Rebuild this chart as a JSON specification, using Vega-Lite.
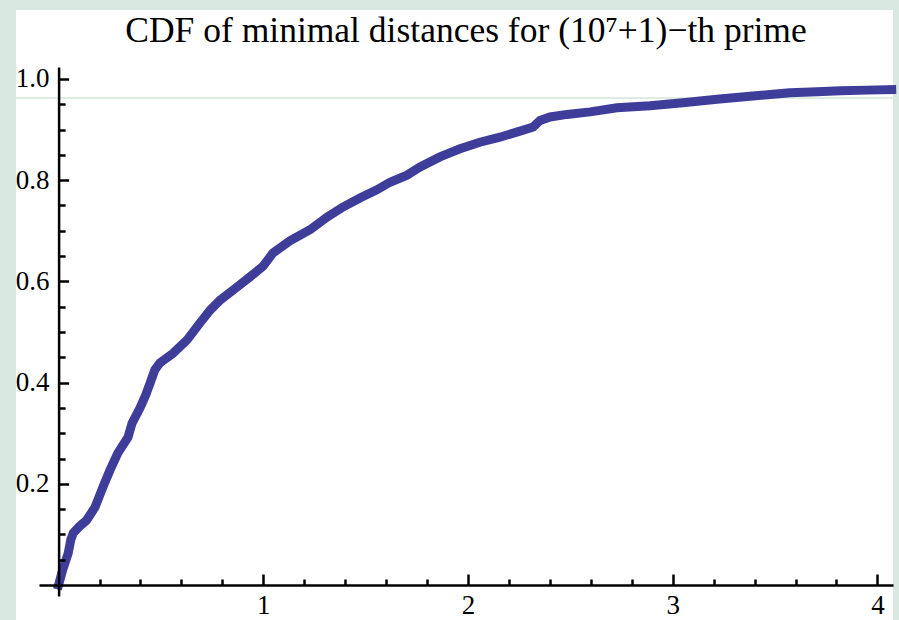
{
  "$schema": "https://vega.github.io/schema/vega-lite/v6.json",
  "width": 854,
  "height": 529,
  "autosize": "none",
  "padding": {"left": 39, "top": 67, "right": 6, "bottom": 24},
  "background": "#d9e8e0",
  "config": {"view": {"stroke": null}},
  "title": {
    "text": "CDF of minimal distances for (10⁷+1)−th prime",
    "font": "Liberation Serif",
    "fontSize": 35.5,
    "fontWeight": "normal",
    "color": "black",
    "anchor": "middle",
    "frame": "group",
    "baseline": "alphabetic",
    "offset": -68
  },
  "datasets": {
    "panel": [{"x0": -0.208, "x1": 4.0762, "y0": 1.1364, "y1": -0.0692}],
    "hline": [{"x0": -0.208, "x1": 4.0762, "y": 0.9625}],
    "cdf": [
      {"d": 0, "p": 0},
      {"d": 0.02, "p": 0.03},
      {"d": 0.047, "p": 0.063},
      {"d": 0.06, "p": 0.09},
      {"d": 0.072, "p": 0.103},
      {"d": 0.1, "p": 0.115},
      {"d": 0.137, "p": 0.128},
      {"d": 0.178, "p": 0.154},
      {"d": 0.217, "p": 0.194},
      {"d": 0.251, "p": 0.227},
      {"d": 0.29, "p": 0.261},
      {"d": 0.339, "p": 0.292},
      {"d": 0.359, "p": 0.32},
      {"d": 0.398, "p": 0.35},
      {"d": 0.425, "p": 0.375},
      {"d": 0.447, "p": 0.399},
      {"d": 0.47, "p": 0.425},
      {"d": 0.495, "p": 0.439},
      {"d": 0.559, "p": 0.458},
      {"d": 0.627, "p": 0.484},
      {"d": 0.691, "p": 0.518},
      {"d": 0.74, "p": 0.543},
      {"d": 0.789, "p": 0.563},
      {"d": 0.872, "p": 0.589},
      {"d": 0.935, "p": 0.609},
      {"d": 0.999, "p": 0.63},
      {"d": 1.047, "p": 0.656},
      {"d": 1.13, "p": 0.68},
      {"d": 1.228, "p": 0.702},
      {"d": 1.311, "p": 0.727},
      {"d": 1.389, "p": 0.747},
      {"d": 1.472, "p": 0.765},
      {"d": 1.555, "p": 0.781},
      {"d": 1.619, "p": 0.796},
      {"d": 1.702, "p": 0.81},
      {"d": 1.766, "p": 0.826},
      {"d": 1.863, "p": 0.846},
      {"d": 1.961, "p": 0.862},
      {"d": 2.058, "p": 0.875},
      {"d": 2.156, "p": 0.885},
      {"d": 2.254, "p": 0.897},
      {"d": 2.318, "p": 0.905},
      {"d": 2.352, "p": 0.918},
      {"d": 2.401, "p": 0.925},
      {"d": 2.484, "p": 0.93},
      {"d": 2.596, "p": 0.935},
      {"d": 2.728, "p": 0.943},
      {"d": 2.889, "p": 0.947},
      {"d": 3.05, "p": 0.953},
      {"d": 3.216, "p": 0.96},
      {"d": 3.378, "p": 0.966},
      {"d": 3.49, "p": 0.97},
      {"d": 3.573, "p": 0.973},
      {"d": 3.705, "p": 0.975},
      {"d": 3.818, "p": 0.977},
      {"d": 3.949, "p": 0.978},
      {"d": 4.07, "p": 0.979}
    ]
  },
  "layer": [
    {
      "data": {"name": "panel"},
      "mark": {"type": "rect", "fill": "white", "clip": false},
      "encoding": {
        "x": {"field": "x0", "type": "quantitative", "scale": {"domain": [-0.0957, 4.0762], "nice": false, "zero": false}, "axis": null},
        "x2": {"field": "x1"},
        "y": {"field": "y0", "type": "quantitative", "scale": {"domain": [-0.0217, 1.0237], "nice": false, "zero": false}, "axis": null},
        "y2": {"field": "y1"}
      }
    },
    {
      "data": {"name": "hline"},
      "mark": {"type": "rule", "color": "#d3e5da", "strokeWidth": 1.5, "clip": false},
      "encoding": {
        "x": {"field": "x0", "type": "quantitative", "axis": {
          "orient": "bottom", "offset": -11, "values": [0.2,0.4,0.6,0.8,1.2,1.4,1.6,1.8,2.2,2.4,2.6,2.8,3.2,3.4,3.6,3.8],
          "tickSize": -6, "tickWidth": 2.5, "tickColor": "black", "labels": false, "domain": false, "title": null, "grid": false, "zindex": 1}},
        "x2": {"field": "x1"},
        "y": {"field": "y", "type": "quantitative", "axis": {
          "orient": "left", "offset": -19.6, "values": [0.05,0.1,0.15,0.25,0.3,0.35,0.45,0.5,0.55,0.65,0.7,0.75,0.85,0.9,0.95],
          "tickSize": -6.5, "tickWidth": 2.5, "tickColor": "black", "labels": false, "domain": false, "title": null, "grid": false, "zindex": 1}}
      }
    },
    {
      "data": {"name": "cdf"},
      "mark": {"type": "line", "color": "#3f3d9a", "strokeWidth": 9, "strokeCap": "square", "strokeJoin": "miter", "clip": false},
      "encoding": {
        "x": {"field": "d", "type": "quantitative", "axis": {
          "orient": "bottom", "offset": -11, "values": [1,2,3,4], "format": "d",
          "tickSize": -11, "tickWidth": 2.5, "tickColor": "black",
          "domainColor": "black", "domainWidth": 2.5,
          "labelFont": "Liberation Serif", "labelFontSize": 27, "labelColor": "black", "labelPadding": 18,
          "labelFlush": false, "labelOverlap": false, "title": null, "grid": false, "zindex": 1}},
        "y": {"field": "p", "type": "quantitative", "axis": {
          "orient": "left", "offset": -19.6, "values": [0.2,0.4,0.6,0.8,1.0], "format": ".1f",
          "tickSize": -10, "tickWidth": 2.5, "tickColor": "black",
          "domainColor": "black", "domainWidth": 2.5,
          "labelFont": "Liberation Serif", "labelFontSize": 27, "labelColor": "black", "labelPadding": 19.5,
          "labelFlush": false, "labelOverlap": false, "title": null, "grid": false, "zindex": 1}}
      }
    }
  ],
  "resolve": {"axis": {"x": "independent", "y": "independent"}}
}
